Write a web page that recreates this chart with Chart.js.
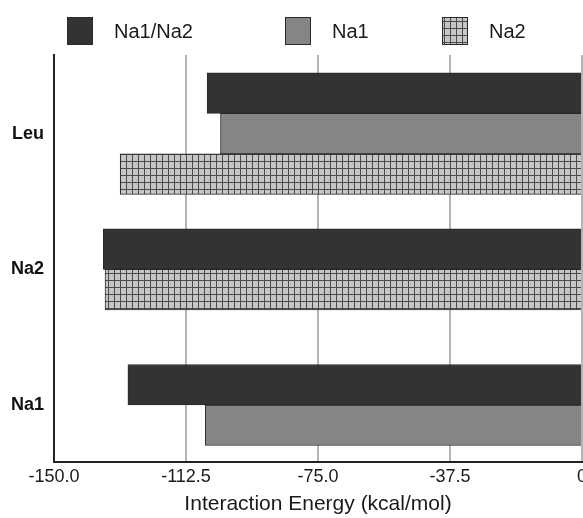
<!DOCTYPE html>
<html>
<head>
<meta charset="utf-8">
<script src="https://cdn.jsdelivr.net/npm/chart.js@4"></script>
<style>
    body { margin: 0; overflow: hidden; background: #fff; }
    #wrap { width: 591px; height: 518px; }
</style>
</head>
<body>
<div id="wrap"><canvas id="chart"></canvas></div>
<script>
// ---- Data ----
const sites = ['Leu', 'Na2', 'Na1'];
const seriesNames = ['Na1/Na2', 'Na1', 'Na2'];
const na1na2Values = [-106.5, -136.0, -129.0];
const na1Values = [-102.7, null, -107.0];
const na2Values = [-131.2, -135.5, null];
const xTicks = [-150, -112.5, -75, -37.5, 0];

const FONT = '"Liberation Sans", Arial, Helvetica, sans-serif';

// cross-hatch fill for the Na2 series
function makeHatch() {
    const c = document.createElement('canvas');
    c.width = 6;
    c.height = 7;
    const g = c.getContext('2d');
    g.fillStyle = '#c6c6c6';
    g.fillRect(0, 0, 6, 7);
    g.fillStyle = '#4a4a4a';
    g.fillRect(0, 0, 1, 7);
    g.fillRect(0, 0, 6, 1);
    return g.createPattern(c, 'repeat');
}
const hatch = makeHatch();

const fills = ['#333333', '#858585', hatch];
const seriesValues = [na1na2Values, na1Values, na2Values];

const toPoints = vals => vals.map((v, i) => ({ x: v, y: i }));

// legend drawn by hand to keep the wide gaps of the original
const legendPlugin = {
    id: 'sideLegend',
    afterDraw(chart) {
        const ctx = chart.ctx;
        const boxX = [67, 285, 442];
        ctx.save();
        seriesNames.forEach((name, i) => {
            ctx.fillStyle = fills[i];
            ctx.fillRect(boxX[i], 17, 26, 28);
            ctx.strokeStyle = '#2a2a2a';
            ctx.lineWidth = 1;
            ctx.strokeRect(boxX[i] + 0.5, 17.5, 25, 27);
            ctx.fillStyle = '#1a1a1a';
            ctx.font = `20px ${FONT}`;
            ctx.textBaseline = 'middle';
            ctx.fillText(name, boxX[i] + 47, 32);
        });
        ctx.restore();
    }
};

new Chart(document.getElementById('chart'), {
    type: 'bar',
    data: {
        datasets: seriesNames.map((name, i) => ({
            label: name,
            data: toPoints(seriesValues[i]),
            backgroundColor: fills[i],
            borderColor: '#2a2a2a',
            borderWidth: 1,
            barThickness: 40.5,
            skipNull: true
        }))
    },
    options: {
        indexAxis: 'y',
        responsive: true,
        maintainAspectRatio: false,
        animation: false,
        layout: { padding: { top: 55, left: 0, right: 0, bottom: 0 } },
        plugins: {
            legend: { display: false },
            tooltip: { enabled: false }
        },
        scales: {
            x: {
                type: 'linear',
                min: -150,
                max: 0,
                afterBuildTicks: s => { s.ticks = xTicks.map(v => ({ value: v })); },
                afterFit: s => { s.height = 56; },
                ticks: {
                    padding: 4,
                    color: '#1a1a1a',
                    font: { family: FONT, size: 18 },
                    callback: v => v === 0 ? '0' : v.toFixed(1)
                },
                grid: { color: '#b4b4b4', lineWidth: 2, drawTicks: false },
                border: { display: true, color: '#222', width: 2 },
                title: {
                    display: true,
                    text: 'Interaction Energy (kcal/mol)',
                    color: '#1a1a1a',
                    font: { family: FONT, size: 21 },
                    padding: { top: 4, bottom: 1 }
                }
            },
            y: {
                type: 'linear',
                reverse: true,
                offset: false,
                min: -0.58,
                max: 2.42,
                bounds: 'data',
                afterBuildTicks: s => { s.ticks = sites.map((_, i) => ({ value: i })); },
                afterFit: s => { s.width = 54; },
                ticks: {
                    padding: 10,
                    color: '#111',
                    font: { family: FONT, size: 18, weight: 'bold' },
                    callback: v => sites[v]
                },
                grid: { display: false, offset: false, drawTicks: false },
                border: { display: true, color: '#222', width: 2 }
            }
        }
    },
    plugins: [legendPlugin]
});
</script>
</body>
</html>
